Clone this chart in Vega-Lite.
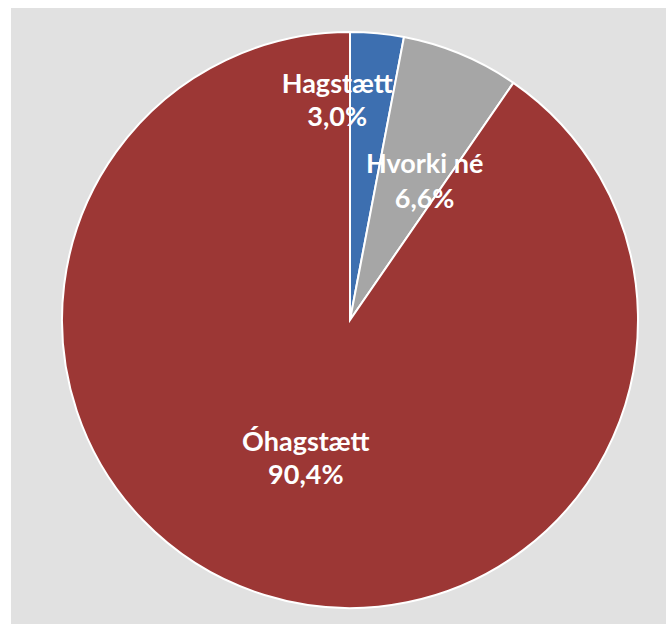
{
  "$schema": "https://vega.github.io/schema/vega-lite/v6.json",
  "autosize": {"type": "none"},
  "width": 655,
  "height": 616,
  "padding": {"left": 11, "top": 8, "right": 0, "bottom": 0},
  "background": "white",
  "view": {"fill": "#e1e1e1", "stroke": null},
  "data": {"values": [
    {"flokkur": "Hagstætt", "hlutfall": 3.0, "merki": "Hagstætt\n3,0%"},
    {"flokkur": "Hvorki né", "hlutfall": 6.6, "merki": "Hvorki né\n6,6%"},
    {"flokkur": "Óhagstætt", "hlutfall": 90.4, "merki": "Óhagstætt\n90,4%"}
  ]},
  "transform": [
    {"window": [{"op": "sum", "field": "hlutfall", "as": "uppsafn"}], "frame": [null, 0]},
    {"calculate": "datum.uppsafn - datum.hlutfall / 2", "as": "mid"}
  ],
  "layer": [
    {
      "mark": {"type": "arc", "outerRadius": 288, "stroke": "white", "strokeWidth": 2, "xOffset": 11.5, "yOffset": 4},
      "encoding": {
        "theta": {"field": "hlutfall", "type": "quantitative", "stack": true, "scale": {"domain": [0, 100]}},
        "order": {"field": "uppsafn", "type": "quantitative"},
        "color": {"field": "flokkur", "type": "nominal", "legend": null,
          "scale": {"domain": ["Hagstætt", "Hvorki né", "Óhagstætt"], "range": ["#3d6fb0", "#a6a6a6", "#9c3735"]}}
      }
    },
    {
      "transform": [{"filter": "datum.flokkur === 'Hagstætt'"}],
      "mark": {"type": "text", "font": "Lato", "fontWeight": "bold", "fontSize": 27, "lineHeight": 33, "color": "white", "lineBreak": "\n", "align": "center", "baseline": "middle", "radius": 215, "xOffset": 11.5, "yOffset": 4, "dx": -33, "dy": -21},
      "encoding": {
        "theta": {"field": "mid", "type": "quantitative", "stack": null, "scale": {"domain": [0, 100]}},
        "text": {"field": "merki"}
      }
    },
    {
      "transform": [{"filter": "datum.flokkur === 'Hvorki né'"}],
      "mark": {"type": "text", "font": "Lato", "fontWeight": "bold", "fontSize": 27, "lineHeight": 35, "color": "white", "lineBreak": "\n", "align": "center", "baseline": "middle", "radius": 152, "xOffset": 11.5, "yOffset": 4, "dx": 16, "dy": -15},
      "encoding": {
        "theta": {"field": "mid", "type": "quantitative", "stack": null, "scale": {"domain": [0, 100]}},
        "text": {"field": "merki"}
      }
    },
    {
      "transform": [{"filter": "datum.flokkur === 'Óhagstætt'"}],
      "mark": {"type": "text", "font": "Lato", "fontWeight": "bold", "fontSize": 27, "lineHeight": 33, "color": "white", "lineBreak": "\n", "align": "center", "baseline": "middle", "radius": 142, "xOffset": 11.5, "yOffset": 4, "dx": -2, "dy": -13},
      "encoding": {
        "theta": {"field": "mid", "type": "quantitative", "stack": null, "scale": {"domain": [0, 100]}},
        "text": {"field": "merki"}
      }
    }
  ]
}
